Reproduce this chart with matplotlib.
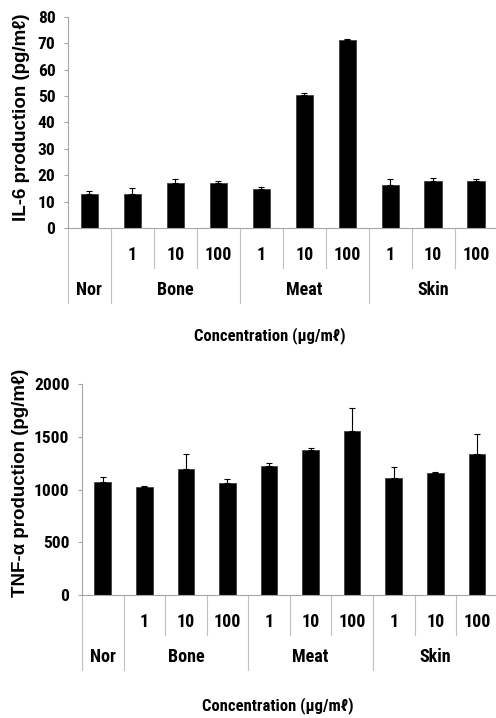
import numpy as np
import matplotlib
matplotlib.use("Agg")
import matplotlib.pyplot as plt
from matplotlib import font_manager

# data
groups = ["Nor", "Bone", "Meat", "Skin"]
group_sizes = [1, 3, 3, 3]
doses = ["", "1", "10", "100", "1", "10", "100", "1", "10", "100"]

il6_mean = [12.8, 13.0, 17.2, 16.9, 14.8, 50.5, 71.2, 16.3, 17.9, 17.9]
il6_err = [1.4, 2.0, 1.2, 1.0, 0.6, 0.8, 0.6, 2.4, 1.2, 0.8]

tnf_mean = [1076, 1029, 1196, 1066, 1224, 1376, 1556, 1108, 1155, 1335]
tnf_err = [41, 6, 145, 32, 32, 16, 215, 107, 10, 190]

names = {f.name for f in font_manager.fontManager.ttflist}
narrow = [n for n in ["Liberation Sans Narrow", "Roboto Condensed", "Open Sans Condensed"] if n in names]
NARROW = narrow + ["Liberation Sans", "DejaVu Sans"]
BOLDF = ["Liberation Sans", "DejaVu Sans"]
GREY = "#a6a6a6"
small = 11 if narrow else 9.5


def draw_panel(ax, means, errs, ylim, yticks, rows):
    n = len(means)
    x = np.arange(n)
    ax.bar(x, means, width=0.4, color="black", edgecolor="#404040", linewidth=0.6,
           yerr=[np.zeros(n), errs], capsize=2.5,
           error_kw=dict(ecolor="black", elinewidth=0.8, capthick=0.8))
    ax.set_xlim(-0.5, n - 0.5)
    ax.set_ylim(*ylim)
    ax.set_yticks(yticks)
    ax.set_xticks([])
    for s in ["top", "right"]:
        ax.spines[s].set_visible(False)
    ax.spines["left"].set_color(GREY)
    ax.spines["bottom"].set_color(GREY)
    ax.tick_params(axis="y", colors=GREY, length=3, labelcolor="black", pad=6)
    for lab in ax.get_yticklabels():
        lab.set_family(NARROW)
        lab.set_fontweight("bold")
        lab.set_fontsize(small + 1.5)

    tr = ax.get_xaxis_transform()
    short_y, long_y, row1_y, row2_y, conc_y = rows
    # category table under the axis
    edges = np.cumsum([0] + group_sizes) - 0.5
    for i in range(n + 1):
        xe = i - 0.5
        ybot = long_y if xe in edges else short_y
        ax.plot([xe, xe], [0, ybot], color="#c0c0c0", lw=0.8, transform=tr, clip_on=False)
    for i, d in enumerate(doses):
        ax.text(i, row1_y, d, transform=tr, ha="center", va="center",
                fontsize=small + 2, fontweight="bold", family=NARROW)
    for g, a, b in zip(groups, edges[:-1], edges[1:]):
        ax.text((a + b) / 2, row2_y, g, transform=tr, ha="center", va="center",
                fontsize=small + 2, fontweight="bold", family=NARROW)
    ax.text(0.47, conc_y, "Concentration (\u03bcg/m\u2113)", transform=ax.transAxes,
            ha="center", va="center", fontsize=small + 1, fontweight="bold", family=NARROW)


fig = plt.figure(figsize=(4.96, 7.18), dpi=100)
ax1 = fig.add_axes([0.137, 0.6825, 0.866, 0.2938])
ax2 = fig.add_axes([0.1653, 0.1709, 0.838, 0.2943])

draw_panel(ax1, il6_mean, il6_err, (0, 80), np.arange(0, 81, 10),
           (-0.19, -0.355, -0.128, -0.294, -0.512))
draw_panel(ax2, tnf_mean, tnf_err, (0, 2000), np.arange(0, 2001, 500),
           (-0.188, -0.354, -0.125, -0.29, -0.524))

fig.text(0.044, 0.837, "IL-6 production (pg/m\u2113)", rotation=90, ha="center", va="center",
         fontsize=13.5, fontweight="bold", family=BOLDF)
fig.text(0.042, 0.327, "TNF-\u03b1 production (pg/m\u2113)", rotation=90, ha="center", va="center",
         fontsize=13.5, fontweight="bold", family=BOLDF)

fig.savefig("out.png", dpi=100)
